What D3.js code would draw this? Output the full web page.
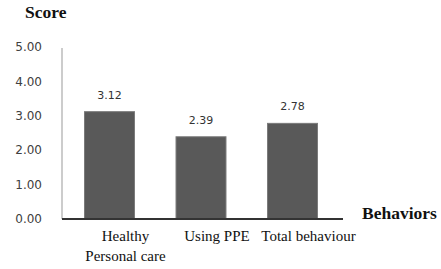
<!DOCTYPE html>
<html lang="en">
<head>
<meta charset="utf-8">
<style>
  body { margin: 0; background: #fff; }
  .tick-label { font-family: "DejaVu Sans", sans-serif; font-size: 12px; fill: #404040; }
  .value-label { font-family: "DejaVu Sans", sans-serif; font-size: 11px; fill: #333; }
  .cat-label { font-family: "Liberation Serif", serif; font-size: 15px; fill: #111; }
  .axis-title { font-family: "Liberation Serif", serif; font-size: 17.5px; font-weight: bold; fill: #111; }
</style>
</head>
<body>
<svg width="441" height="269"></svg>
<script src="https://d3js.org/d3.v7.min.js"></script>
<script>
var categories = ["Healthy\nPersonal care", "Using PPE", "Total behaviour"];
var scores = [3.12, 2.39, 2.78];
var tickValues = [0, 1, 2, 3, 4, 5];

var svg = d3.select("svg");

var y = d3.scaleLinear().domain([0, 5]).range([219, 47]);
var x = d3.scaleBand()
    .domain(categories)
    .range([62, 340])
    .paddingInner(0.454)
    .paddingOuter(0.246);

// y axis line
svg.append("line")
    .attr("x1", 62).attr("x2", 62)
    .attr("y1", 48).attr("y2", y(0))
    .attr("stroke", "#999").attr("stroke-width", 1);

// tick labels
svg.selectAll(".tick-label")
    .data(tickValues)
    .enter().append("text")
    .attr("class", "tick-label")
    .attr("x", 42)
    .attr("y", function (d) { return y(d); })
    .attr("dy", "0.35em")
    .attr("text-anchor", "end")
    .text(function (d) { return d.toFixed(2); });

// bars
svg.selectAll(".bar")
    .data(scores)
    .enter().append("rect")
    .attr("class", "bar")
    .attr("x", function (d, i) { return x(categories[i]); })
    .attr("y", function (d) { return y(d); })
    .attr("width", x.bandwidth())
    .attr("height", function (d) { return y(0) - y(d); })
    .attr("fill", "#595959")
    .attr("stroke", "#7a7a7a")
    .attr("stroke-width", 1);

// value labels
svg.selectAll(".value-label")
    .data(scores)
    .enter().append("text")
    .attr("class", "value-label")
    .attr("x", function (d, i) { return x(categories[i]) + x.bandwidth() / 2; })
    .attr("y", function (d) { return y(d) - 13; })
    .attr("text-anchor", "middle")
    .text(function (d) { return d.toFixed(2); });

// x axis line
svg.append("line")
    .attr("x1", 62).attr("x2", 343)
    .attr("y1", y(0)).attr("y2", y(0))
    .attr("stroke", "#333").attr("stroke-width", 2);

// category labels
var cat = svg.selectAll(".cat-label")
    .data(categories)
    .enter().append("text")
    .attr("class", "cat-label")
    .attr("text-anchor", "middle")
    .attr("y", 241);

cat.selectAll("tspan")
    .data(function (d, i) {
        return d.split("\n").map(function (s) { return { s: s, i: i }; });
    })
    .enter().append("tspan")
    .attr("x", function (d) { return x(categories[d.i]) + x.bandwidth() / 2 + 16; })
    .attr("dy", function (d, j) { return j === 0 ? 0 : 20; })
    .text(function (d) { return d.s; });

// axis titles
svg.append("text")
    .attr("class", "axis-title")
    .attr("x", 25).attr("y", 18)
    .text("Score");

svg.append("text")
    .attr("class", "axis-title")
    .attr("x", 362).attr("y", 219)
    .text("Behaviors");
</script>
</body>
</html>
